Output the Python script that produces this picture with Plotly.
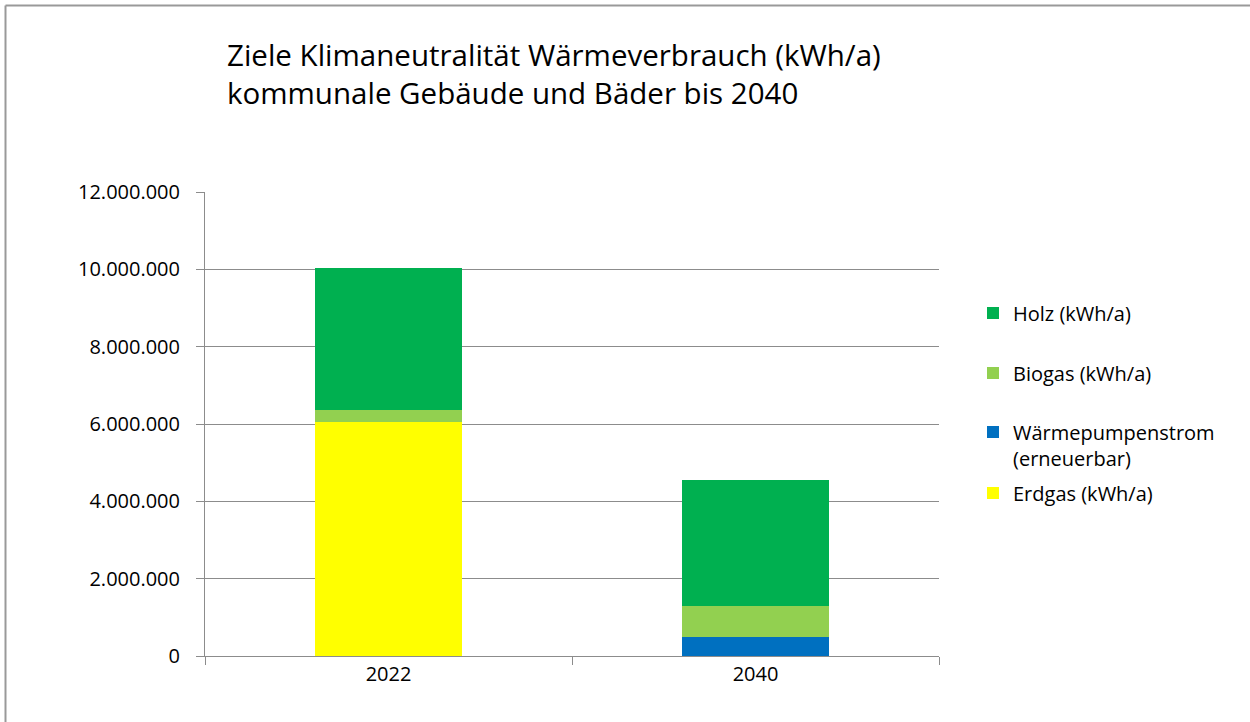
import plotly.graph_objects as go

years = ["2022", "2040"]
erdgas = [6060000, 0]
waermepumpe = [0, 500000]
biogas = [310000, 790000]
holz = [3670000, 3260000]

series = [
    ("Erdgas (kWh/a)", erdgas, "#FFFF00", "legend4"),
    ("Wärmepumpenstrom<br>(erneuerbar)", waermepumpe, "#0070C0", "legend3"),
    ("Biogas (kWh/a)", biogas, "#92D050", "legend2"),
    ("Holz (kWh/a)", holz, "#00B050", "legend"),
]

FONT = "Open Sans"
W, H = 1250, 722
L, R, T, B = 205, 939, 192, 656

def px_x(p):
    return (p - L) / (R - L)

def px_y(p):
    return (B - p) / (B - T)

fig = go.Figure()
for name, vals, col, lg in series:
    fig.add_trace(go.Bar(x=years, y=vals, name=name, marker=dict(color=col, line=dict(width=0)),
                         legend=lg))

leg_common = dict(font=dict(family=FONT, size=20, color="#000"), bgcolor="rgba(0,0,0,0)",
                  xanchor="left", yanchor="middle", x=px_x(973), itemclick=False)
fig.update_layout(
    width=W, height=H,
    margin=dict(l=L, r=W - R, t=T, b=H - B),
    paper_bgcolor="white", plot_bgcolor="white",
    barmode="stack", bargap=0.6,
    separators=",.",
    showlegend=True,
    legend=dict(y=px_y(313), **leg_common),
    legend2=dict(y=px_y(373), **leg_common),
    legend3=dict(y=px_y(445), valign="top", **leg_common),
    legend4=dict(y=px_y(493), **leg_common),
    font=dict(family=FONT, size=20, color="#000"),
    xaxis=dict(showline=True, linecolor="#8c8c8c", linewidth=1, ticks="outside", tickson="boundaries",
               ticklen=8, tickcolor="#8c8c8c", showgrid=False,
               tickfont=dict(family=FONT, size=20, color="#000")),
    yaxis=dict(range=[0, 12000000], dtick=2000000, tickformat=",d", showline=True,
               linecolor="#8c8c8c", linewidth=1, ticks="outside", ticklen=8, tickcolor="#8c8c8c",
               showgrid=True, gridcolor="#8c8c8c", gridwidth=1, zeroline=False,
               ticklabelstandoff=12, tickfont=dict(family=FONT, size=20, color="#000")),
    annotations=[
        dict(text="Ziele Klimaneutralität Wärmeverbrauch (kWh/a)", xref="paper", yref="paper",
             x=px_x(225), y=px_y(54), xanchor="left", yanchor="middle", showarrow=False,
             font=dict(family=FONT, size=29.5, color="#000")),
        dict(text="kommunale Gebäude und Bäder bis 2040", xref="paper", yref="paper",
             x=px_x(225), y=px_y(92), xanchor="left", yanchor="middle", showarrow=False,
             font=dict(family=FONT, size=29.5, color="#000")),
    ],
    shapes=[
        dict(type="line", xref="paper", yref="paper", x0=px_x(5.5), x1=px_x(1250), y0=px_y(5.5), y1=px_y(5.5),
             line=dict(color="#999999", width=2)),
        dict(type="line", xref="paper", yref="paper", x0=px_x(5.5), x1=px_x(5.5), y0=px_y(5.5), y1=px_y(722),
             line=dict(color="#999999", width=2)),
    ],
)
fig.write_html("out.html", config={"displayModeBar": False},
               post_script="document.body.style.margin='0';")
